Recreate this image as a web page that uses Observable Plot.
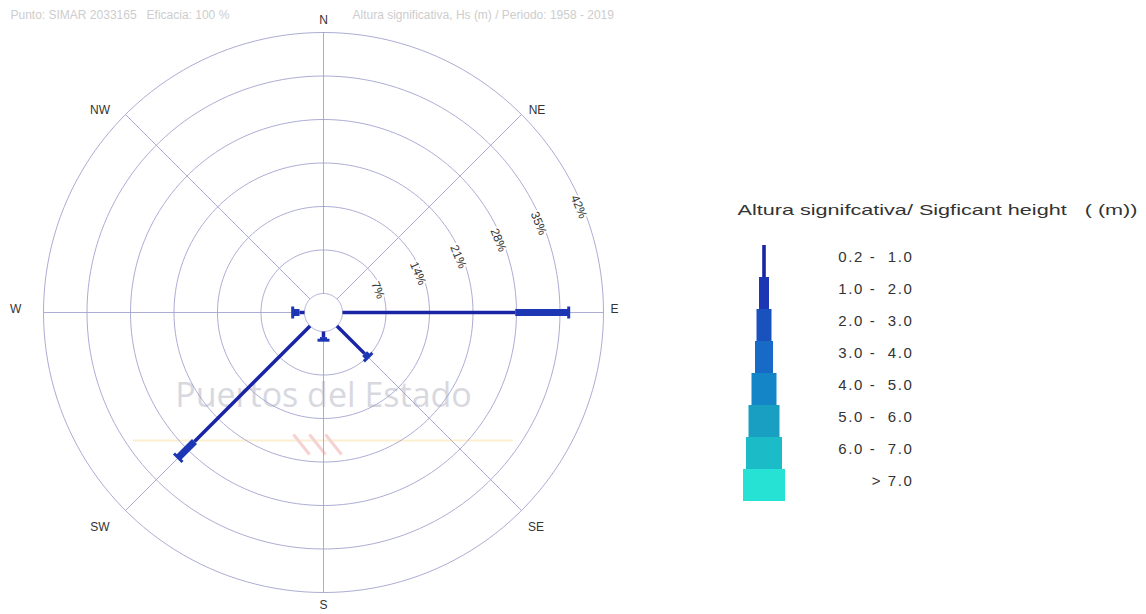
<!DOCTYPE html>
<html><head><meta charset="utf-8">
<script src="https://cdn.jsdelivr.net/npm/d3@7"></script>
<script src="https://cdn.jsdelivr.net/npm/@observablehq/plot@0.6"></script>
<style>
body{margin:0;background:#fff;}
#wrap{position:relative;width:1146px;height:614px;overflow:hidden;background:#fff;}
#rose{position:absolute;left:0;top:0;}
#legend{position:absolute;left:720px;top:190px;}
svg text{white-space:pre;}
</style></head><body><div id="wrap"><div id="rose"></div><div id="legend"></div></div>
<script>
// ---------- data ----------
const directions = ["N","NE","E","SE","S","SW","W","NW"];
const bearings = [0,45,90,135,180,225,270,315];
const classes = ["0.2 -  1.0","1.0 -  2.0","2.0 -  3.0","3.0 -  4.0","4.0 -  5.0","5.0 -  6.0","6.0 -  7.0","> 7.0"];
// frequency (%) per direction, one array per Hs class (order = directions)
const hs_02_10 = [0, 0, 27.8, 6.3, 0.9, 26.3, 0.8, 0];
const hs_10_20 = [0, 0, 8.6, 0.8, 0.5, 3.7, 1.1, 0];
const hs_20_30 = [0, 0, 0, 0, 0, 0, 0, 0];
const hs_30_40 = [0, 0, 0, 0, 0, 0, 0, 0];
const hs_40_50 = [0, 0, 0, 0, 0, 0, 0, 0];
const hs_50_60 = [0, 0, 0, 0, 0, 0, 0, 0];
const hs_60_70 = [0, 0, 0, 0, 0, 0, 0, 0];
const hs_gt_70 = [0, 0, 0, 0, 0, 0, 0, 0];
const series = [hs_02_10, hs_10_20, hs_20_30, hs_30_40, hs_40_50, hs_50_60, hs_60_70, hs_gt_70];
const ringTicks = [7, 14, 21, 28, 35, 42];
const ringLabels = ["7%", "14%", "21%", "28%", "35%", "42%"];
const legendTitle = "Altura signifcativa/ Sigficant height   ( (m))";
const watermark = "Puertos del Estado";
const topLeftText = "Punto: SIMAR 2033165   Eficacia: 100 %";
const topRightText = "Altura significativa, Hs (m) / Periodo: 1958 - 2019";

// ---------- styles ----------
const classColors = ["#1a25a6","#1c36b4","#1a52bd","#176ac6","#1486c8","#189fc2","#1bbcc8","#25e2d4"];
const roseWidths = [3.5, 7, 10, 13, 16, 19, 22, 25];
const legendHalfWidths = [1.8, 5, 7.5, 9, 12.5, 15.5, 18, 21];
const labelNudgeX = [0, 5, -4, 4, 0, -15, -13, -15];   // px
const labelNudgeY = [-3, -6, 3, -6, 2, -6, 3, -6];     // px (up positive)
const gridColor = "#a3a3cf";

// ---------- geometry ----------
const k = 43.5 / 7;          // px per percent
const hole = 19 / k;         // calm circle radius in percent units
const cx = 323, cy = 312, W = 660, H = 614;
const rad = d => d * Math.PI / 180;
const px = (b, r) => (hole + r) * Math.sin(rad(b));
const py = (b, r) => (hole + r) * Math.cos(rad(b));

const ringPts = [];
for (const ring of [0, ...ringTicks]) for (let a = 0; a <= 360; a += 2) ringPts.push({ring, x: px(a, ring), y: py(a, ring)});

const segments = [], caps = [];
directions.forEach((dir, i) => {
  let cum = 0, last = -1;
  series.forEach((s, j) => {
    const v = s[i];
    if (v > 0) { segments.push({dir, b: bearings[i], cls: classes[j], j, r1: cum, r2: cum + v}); last = j; }
    cum += v;
  });
  if (cum > 0) caps.push({dir, b: bearings[i], r: cum, cls: classes[last]});
});
const capHalf = 6 / k;
const logoStrokes = [0, 1, 2];

const rose = Plot.plot({
  width: W, height: H, margin: 0,
  x: {domain: [-cx / k, (W - cx) / k], axis: null},
  y: {domain: [-(H - cy) / k, cy / k], axis: null},
  color: {domain: classes, range: classColors},
  style: {fontFamily: "Liberation Sans, Arial, sans-serif", background: "white"},
  marks: [
    Plot.text([topLeftText], {frameAnchor: "top-left", dx: 10, dy: 10, fontSize: 12, fill: "#cdcdcd", textAnchor: "start"}),
    Plot.text([topRightText], {frameAnchor: "top-left", dx: 352, dy: 10, fontSize: 12, fill: "#cdcdcd", textAnchor: "start"}),
    Plot.ruleY([0], {x1: () => -190 / k, x2: () => 190 / k, dy: 128, stroke: "#fbefd0", strokeWidth: 2}),
    Plot.link(logoStrokes, {x1: i => (-30 + i * 16) / k, y1: () => -122 / k, x2: i => (-14 + i * 16) / k, y2: () => -142 / k,
      stroke: "#f6d2d2", strokeWidth: 3}),
    Plot.text([watermark], {x: () => 0, y: () => 0, dy: 84, fontSize: 34, fill: "#d8d8df", fontFamily: "Open Sans", fontWeight: 500}),
    Plot.line(ringPts, {x: "x", y: "y", z: "ring", stroke: gridColor, strokeWidth: 0.9}),
    Plot.link(bearings, {x1: b => px(b, 0), y1: b => py(b, 0), x2: b => px(b, 42), y2: b => py(b, 42), stroke: gridColor, strokeWidth: 0.9}),
    Plot.text(ringTicks, {x: v => px(67.5, v - 0.6), y: v => py(67.5, v - 0.6), text: (v, i) => ringLabels[i], rotate: 67.5,
      fontSize: 12, fill: "#333", stroke: "white", strokeWidth: 4}),
    Plot.text(directions, {x: (d, i) => px(bearings[i], 44.4) + labelNudgeX[i] / k, y: (d, i) => py(bearings[i], 44.4) + labelNudgeY[i] / k,
      text: d => d, fontSize: 12, fill: "#333"}),
    Plot.link(segments, {x1: d => px(d.b, d.r1), y1: d => py(d.b, d.r1), x2: d => px(d.b, d.r2), y2: d => py(d.b, d.r2),
      stroke: "cls", strokeWidth: d => roseWidths[d.j], strokeLinecap: "butt"}),
    Plot.link(caps, {x1: d => px(d.b, d.r) + capHalf * Math.sin(rad(d.b + 90)), y1: d => py(d.b, d.r) + capHalf * Math.cos(rad(d.b + 90)),
      x2: d => px(d.b, d.r) - capHalf * Math.sin(rad(d.b + 90)), y2: d => py(d.b, d.r) - capHalf * Math.cos(rad(d.b + 90)),
      stroke: "cls", strokeWidth: 3, strokeLinecap: "butt"})
  ]
});
document.getElementById("rose").appendChild(rose);

const legend = Plot.plot({
  width: 426, height: 320, margin: 0,
  x: {domain: [-44, 382], range: [0, 426], axis: null},
  y: {type: "band", domain: classes, range: [53, 312], padding: 0, axis: null},
  color: {domain: classes, range: classColors},
  style: {fontFamily: "Liberation Sans, Arial, sans-serif", background: "white"},
  marks: [
    Plot.text([legendTitle], {frameAnchor: "top-left", dx: 17, dy: 14, fontSize: 14.5, fill: "#333", textAnchor: "start"}),
    Plot.barX(classes, {y: d => d, x1: (d, i) => -legendHalfWidths[i], x2: (d, i) => legendHalfWidths[i], fill: d => d}),
    Plot.text(classes, {y: d => d, frameAnchor: "left", dx: 193, dy: -4, textAnchor: "end", fontSize: 15, fill: "#333", text: d => d})
  ]
});
document.getElementById("legend").appendChild(legend);
// widen glyphs like the original raster fonts
d3.select(legend).selectAll("text").filter(function(){return this.textContent === legendTitle;}).attr("textLength", 400).attr("lengthAdjust", "spacingAndGlyphs");
d3.select(legend).selectAll("text").filter(function(){return this.textContent !== legendTitle;}).style("letter-spacing", "1.6px");
</script></body></html>
